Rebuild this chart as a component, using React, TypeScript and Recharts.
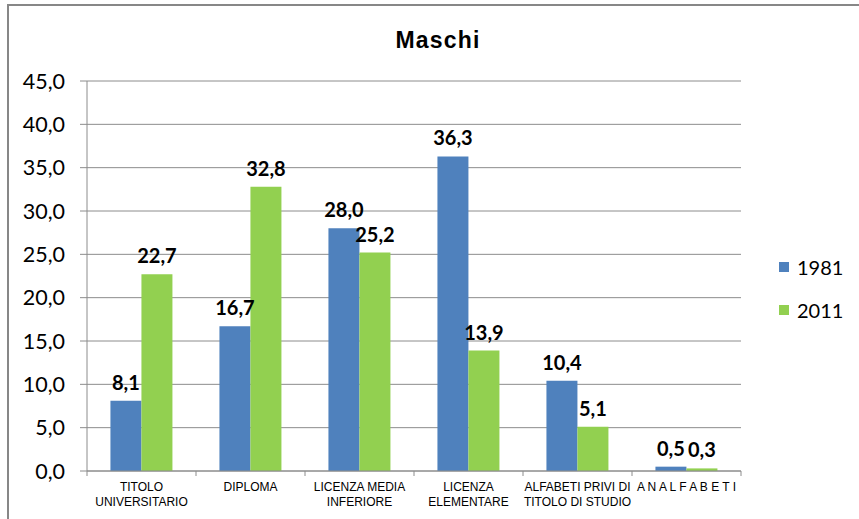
import React from "react";
import { BarChart, Bar, XAxis, YAxis, CartesianGrid, LabelList } from "recharts";

const categories = [
  "TITOLO\nUNIVERSITARIO",
  "DIPLOMA",
  "LICENZA MEDIA\nINFERIORE",
  "LICENZA\nELEMENTARE",
  "ALFABETI PRIVI DI\nTITOLO DI STUDIO",
  "A N A L F A B E T I",
];
const values1981 = [8.1, 16.7, 28.0, 36.3, 10.4, 0.5];
const values2011 = [22.7, 32.8, 25.2, 13.9, 5.1, 0.3];
const yTicks = [0, 5, 10, 15, 20, 25, 30, 35, 40, 45];

const BLUE = "#4f81bd";
const GREEN = "#92d050";
const GRID = "#8c8c8c";

const data = categories.map((c, i) => ({
  name: c,
  y1981: values1981[i],
  y2011: values2011[i],
}));

const fmt = (v: number) => v.toFixed(1).replace(".", ",");

function CategoryTick(props: any) {
  const { x, y, payload, index } = props;
  const half = payload.offset || 0;
  const lines = String(payload.value).split("\n");
  return (
    <g>
      <line x1={x - half} x2={x - half} y1={y} y2={y + 5} stroke={GRID} />
      {index === categories.length - 1 && (
        <line x1={x + half} x2={x + half} y1={y} y2={y + 5} stroke={GRID} />
      )}
      {lines.map((l, i) => (
        <text
          key={i}
          x={x}
          y={y + 20 + i * 15}
          textAnchor="middle"
          fontSize={12}
          fontFamily="'Liberation Sans Narrow', 'Liberation Sans', Arial, sans-serif"
          fill="#000"
        >
          {l}
        </text>
      ))}
    </g>
  );
}

const labelStyle = { fill: "#000", fontSize: 20, fontWeight: 700, fontFamily: "Lato, sans-serif" };

export default function App() {
  return (
    <div
      style={{
        position: "fixed",
        left: 0,
        top: 0,
        width: 859,
        height: 519,
        background: "#fff",
        overflow: "hidden",
      }}
    >
      <div
        style={{
          position: "absolute",
          left: 7,
          top: 4,
          width: 860,
          height: 520,
          borderTop: "2px solid #878787",
          borderLeft: "2px solid #878787",
        }}
      />
      <div
        style={{
          position: "absolute",
          left: 0,
          width: 876,
          top: 27,
          textAlign: "center",
          fontFamily: "'Liberation Sans', Arial, sans-serif",
          fontWeight: 700,
          fontSize: 23,
          letterSpacing: 1.2,
          color: "#000",
        }}
      >
        Maschi
      </div>
      <div style={{ position: "absolute", left: 0, top: 0 }}>
        <BarChart
          width={859}
          height={519}
          data={data}
          margin={{ top: 81, right: 118, bottom: 0, left: 0 }}
          barCategoryGap="21.5%"
          barGap={0}
        >
          <CartesianGrid vertical={false} stroke={GRID} strokeWidth={1} />
          <XAxis
            dataKey="name"
            height={48}
            interval={0}
            tickLine={false}
            tickSize={0}
            tickMargin={0}
            axisLine={{ stroke: GRID }}
            tick={<CategoryTick />}
          />
          <YAxis
            width={87}
            domain={[0, 45]}
            ticks={yTicks}
            interval={0}
            tickFormatter={fmt}
            tickSize={7}
            tickMargin={15}
            axisLine={{ stroke: GRID }}
            tickLine={{ stroke: GRID }}
            tick={{ fill: "#000", fontSize: 21.5, fontFamily: "Lato, sans-serif" }}
          />
          <Bar dataKey="y1981" fill={BLUE} isAnimationActive={false}>
            <LabelList
              dataKey="y1981"
              position="top"
              offset={11}
              formatter={(v: any) => fmt(Number(v))}
              style={labelStyle}
            />
          </Bar>
          <Bar dataKey="y2011" fill={GREEN} isAnimationActive={false}>
            <LabelList
              dataKey="y2011"
              position="top"
              offset={11}
              formatter={(v: any) => fmt(Number(v))}
              style={labelStyle}
            />
          </Bar>
        </BarChart>
      </div>
      {[
        { label: "1981", color: BLUE, top: 267 },
        { label: "2011", color: GREEN, top: 310 },
      ].map((it) => (
        <div
          key={it.label}
          style={{
            position: "absolute",
            left: 779,
            top: it.top - 12,
            height: 24,
            display: "flex",
            alignItems: "center",
            fontFamily: "Lato, sans-serif",
            fontSize: 20,
            color: "#000",
          }}
        >
          <span style={{ width: 10, height: 10, background: it.color, marginRight: 8 }} />
          {it.label}
        </div>
      ))}
    </div>
  );
}
